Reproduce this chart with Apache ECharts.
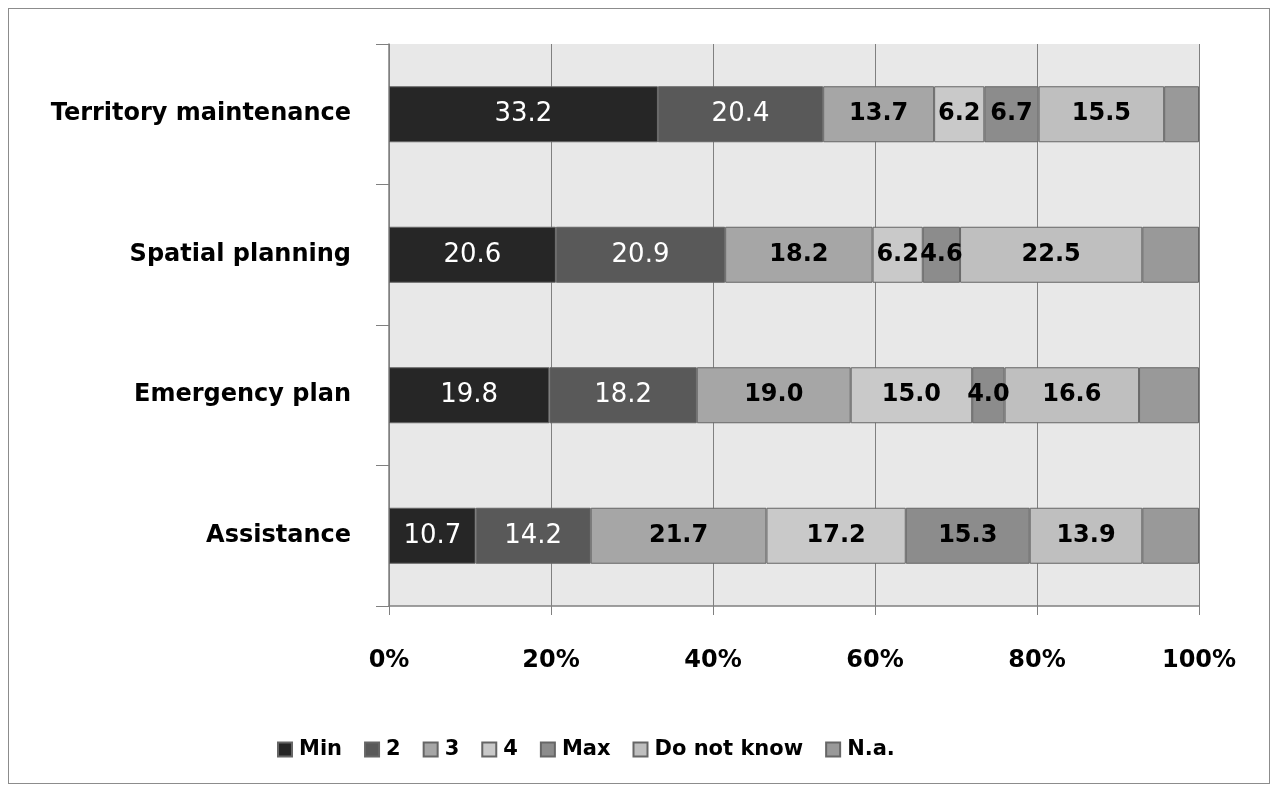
<!DOCTYPE html>
<html>
<head>
<meta charset="utf-8">
<script src="https://cdn.jsdelivr.net/npm/echarts@6/dist/echarts.min.js"></script>
<style>
  html, body { margin: 0; padding: 0; background: #fff; }
  #frame { position: absolute; left: 8px; top: 8px; width: 1260px; height: 774px; border: 1px solid #8c8c8c; }
  #chart { position: absolute; left: 0; top: 0; width: 1276px; height: 794px; }
</style>
</head>
<body>
<div id="frame"></div>
<div id="chart"></div>
<script>
// categories, bottom to top as drawn
const categories = ['Assistance', 'Emergency plan', 'Spatial planning', 'Territory maintenance']
const seriesNames = ['Min', '2', '3', '4', 'Max', 'Do not know', 'N.a.']
const minData = [10.7, 19.8, 20.6, 33.2]
const twoData = [14.2, 18.2, 20.9, 20.4]
const threeData = [21.7, 19.0, 18.2, 13.7]
const fourData = [17.2, 15.0, 6.2, 6.2]
const maxData = [15.3, 4.0, 4.6, 6.7]
const dontKnowData = [13.9, 16.6, 22.5, 15.5]
const naData = [7.0, 7.4, 7.0, 4.3]
const xTicks = [0, 20, 40, 60, 80, 100]

const colors = ['#262626', '#595959', '#a6a6a6', '#c9c9c9', '#8c8c8c', '#bfbfbf', '#999999']
const labelColors = ['#ffffff', '#ffffff', '#000', '#000', '#000', '#000', '#000']
const allData = [minData, twoData, threeData, fourData, maxData, dontKnowData, naData]

const font = 'DejaVu Sans'

let chart = echarts.init(document.getElementById('chart'))
let option = {
  animation: false,
  textStyle: { fontFamily: font },
  grid: {
    left: 389, right: 77, top: 44, bottom: 188,
    show: true,
    backgroundColor: '#e8e8e8',
    borderWidth: 0
  },
  legend: {
    top: 734,
    left: 272,
    itemWidth: 14,
    itemHeight: 14,
    itemGap: 22,
    icon: 'rect',
    textStyle: { fontSize: 21, fontWeight: 'bold', color: '#000', fontFamily: font, padding: [0, 0, 0, 2] },
    data: seriesNames
  },
  xAxis: {
    type: 'value',
    min: xTicks[0],
    max: xTicks[xTicks.length - 1],
    interval: 20,
    axisLine: { show: true, lineStyle: { color: '#808080', width: 1.5 } },
    axisTick: { show: true, length: 9, lineStyle: { color: '#808080' } },
    axisLabel: {
      margin: 43,
      formatter: '{value}%',
      color: '#000',
      fontSize: 24,
      fontWeight: 'bold',
      fontFamily: font
    },
    splitLine: { show: true, lineStyle: { color: '#808080', width: 1 } }
  },
  yAxis: {
    type: 'category',
    data: categories,
    axisLine: { show: true, lineStyle: { color: '#808080', width: 1.5 } },
    axisTick: { show: true, length: 13, lineStyle: { color: '#808080' } },
    axisLabel: {
      margin: 38,
      color: '#000',
      fontSize: 24,
      fontWeight: 'bold',
      fontFamily: font
    }
  },
  series: seriesNames.map((name, i) => {
    return {
      name: name,
      type: 'bar',
      stack: 'total',
      barWidth: 56,
      data: allData[i],
      itemStyle: {
        color: colors[i],
        borderColor: '#666666',
        borderWidth: 1
      },
      label: {
        show: name !== 'N.a.',
        position: 'inside',
        color: labelColors[i],
        fontSize: i < 2 ? 26 : 24,
        fontWeight: i < 2 ? 'normal' : 'bold',
        fontFamily: font,
        formatter: p => p.value.toFixed(1)
      }
    }
  })
}
chart.setOption(option, true)
</script>
</body>
</html>
